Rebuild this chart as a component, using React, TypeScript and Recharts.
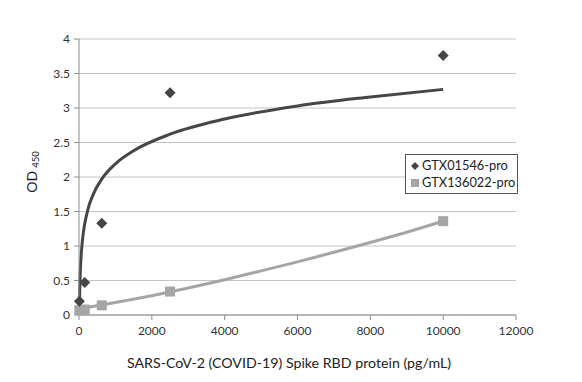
import {
  CartesianGrid,
  ComposedChart,
  Line,
  Scatter,
  XAxis,
  YAxis,
} from "recharts";

// measured points
const proteinX = [10, 156, 625, 2500, 10000];
const gtx01546Y = [0.2, 0.47, 1.33, 3.22, 3.76];
const gtx136022Y = [0.07, 0.08, 0.14, 0.34, 1.36];

// trend lines
const logTrendX = [10, 20, 40, 70, 100, 150, 250, 400, 625, 1000, 1500, 2500, 4000, 6000, 8000, 10000];
const logTrendY = [0.03, 0.36, 0.68, 0.94, 1.11, 1.3, 1.54, 1.76, 1.97, 2.19, 2.38, 2.62, 2.84, 3.03, 3.16, 3.27];
const polyTrendX = [10, 1000, 2000, 3000, 4000, 5000, 6000, 7000, 8000, 9000, 10000];
const polyTrendY = [0.09, 0.18, 0.28, 0.39, 0.51, 0.64, 0.77, 0.91, 1.05, 1.2, 1.36];

const xTicks = [0, 2000, 4000, 6000, 8000, 10000, 12000];
const yTicks = [0, 0.5, 1, 1.5, 2, 2.5, 3, 3.5, 4];
const seriesNames = ["GTX01546-pro", "GTX136022-pro"];

const DARK = "#464646";
const LIGHT = "#a5a5a5";
const FONT = "Lato, 'Open Sans', sans-serif";

const zip = (xs: number[], ys: number[]) => xs.map((x, i) => ({ x, y: ys[i] }));

const diamondData = zip(proteinX, gtx01546Y);
const squareData = zip(proteinX, gtx136022Y);
const logTrend = zip(logTrendX, logTrendY);
const polyTrend = zip(polyTrendX, polyTrendY);

function Diamond(props: any) {
  const { cx, cy } = props;
  const r = 5.5;
  return (
    <path
      d={`M${cx},${cy - r}L${cx + r},${cy}L${cx},${cy + r}L${cx - r},${cy}Z`}
      fill={DARK}
    />
  );
}

function Square(props: any) {
  const { cx, cy } = props;
  const s = 10;
  return <rect x={cx - s / 2} y={cy - s / 2} width={s} height={s} fill={LIGHT} />;
}

function LegendBox() {
  return (
    <div
      style={{
        position: "absolute",
        left: 405,
        top: 154,
        border: "1px solid #555",
        background: "#fff",
        width: 107,
        padding: "2px 0 2px 4px",
        fontFamily: FONT,
        fontSize: 12.8,
        color: "#222",
        lineHeight: "17px",
        whiteSpace: "nowrap",
      }}
    >
      <div style={{ display: "flex", alignItems: "center" }}>
        <svg width={10} height={10} style={{ marginRight: 2 }}>
          <path d="M5,1L9,5L5,9L1,5Z" fill={DARK} />
        </svg>
        {seriesNames[0]}
      </div>
      <div style={{ display: "flex", alignItems: "center" }}>
        <svg width={10} height={10} style={{ marginRight: 2 }}>
          <rect x={1} y={1} width={8} height={8} fill={LIGHT} />
        </svg>
        {seriesNames[1]}
      </div>
    </div>
  );
}

export default function App() {
  return (
    <div style={{ position: "absolute", left: 0, top: 0, background: "#fff" }}>
      <ComposedChart
        width={582}
        height={382}
        margin={{ top: 39, right: 66, left: 0, bottom: 0 }}
      >
        <CartesianGrid vertical={false} stroke="#c4c4c4" />
        <XAxis
          type="number"
          dataKey="x"
          domain={[0, 12000]}
          ticks={xTicks}
          height={67}
          stroke="#8c8c8c"
          tickSize={5}
          tick={{ fill: "#333", fontSize: 12, fontFamily: FONT, dy: 4 }}
          label={{
            content: () => (
              <text
                x={289}
                y={368}
                textAnchor="middle"
                fontFamily={FONT}
                fontSize={14.2}
                fill="#222"
              >
                SARS-CoV-2 (COVID-19) Spike RBD protein (pg/mL)
              </text>
            ),
          }}
        />
        <YAxis
          type="number"
          dataKey="y"
          domain={[0, 4]}
          ticks={yTicks}
          width={79}
          stroke="#8c8c8c"
          tickSize={5}
          tick={{ fill: "#333", fontSize: 12, fontFamily: FONT, dx: -2 }}
          label={{
            content: () => (
              <text
                x={37}
                y={172}
                transform="rotate(-90 37 172)"
                textAnchor="middle"
                fontFamily={FONT}
                fontSize={14}
                fill="#1a1a2e"
              >
                OD
                <tspan fontSize={9.5} dx={3} dy={2}>
                  450
                </tspan>
              </text>
            ),
          }}
        />
        <Line
          data={logTrend}
          dataKey="y"
          type="monotone"
          stroke={DARK}
          strokeWidth={3}
          dot={false}
          activeDot={false}
          legendType="none"
          isAnimationActive={false}
        />
        <Line
          data={polyTrend}
          dataKey="y"
          type="monotone"
          stroke={LIGHT}
          strokeWidth={3}
          dot={false}
          activeDot={false}
          legendType="none"
          isAnimationActive={false}
        />
        <Scatter
          name={seriesNames[1]}
          data={squareData}
          dataKey="y"
          shape={Square}
          isAnimationActive={false}
        />
        <Scatter
          name={seriesNames[0]}
          data={diamondData}
          dataKey="y"
          shape={Diamond}
          isAnimationActive={false}
        />
      </ComposedChart>
      <LegendBox />
    </div>
  );
}
